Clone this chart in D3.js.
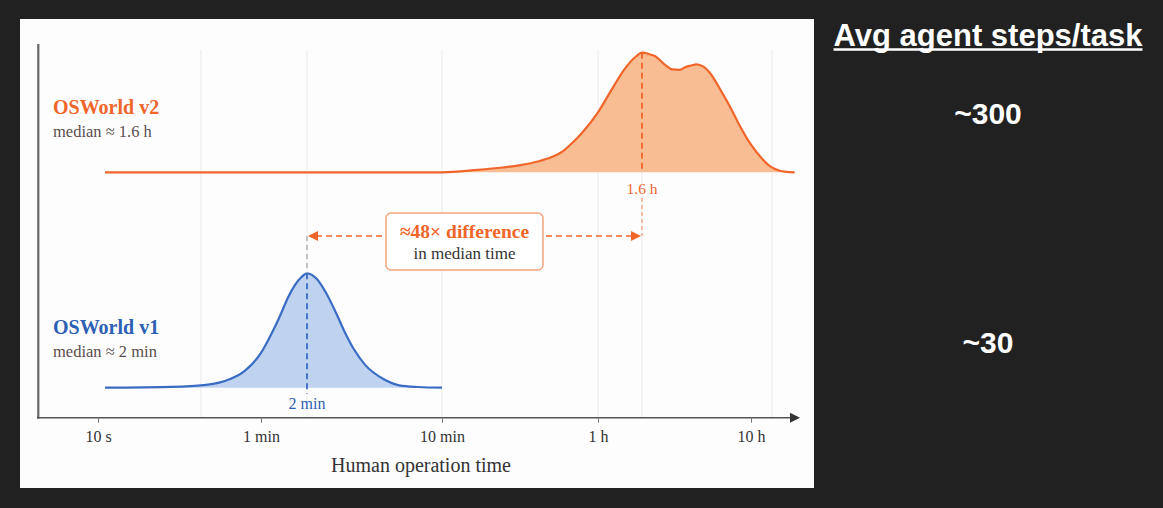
<!DOCTYPE html>
<html>
<head>
<meta charset="utf-8">
<script src="https://cdn.jsdelivr.net/npm/d3@7"></script>
<style>
  html, body { margin: 0; padding: 0; background: #212121; }
  svg { display: block; }
</style>
</head>
<body>
<svg id="chart" width="1163" height="508"></svg>
<script>
// ---- data (times in seconds, density scaled so the tallest peak ~ 1) ----
const tickTimes = [10, 60, 600, 3600, 36000];
const tickLabels = ["10 s", "1 min", "10 min", "1 h", "10 h"];
const gridTimes = [31, 120, 600, 3600, 5760, 51300];

const v1Times = [10.8, 20, 30, 40, 50, 60, 70, 80, 90, 100, 110, 120, 135, 150, 170, 190, 210, 240, 300, 360, 450, 600];
const v1Density = [0, 0.004, 0.017, 0.054, 0.138, 0.29, 0.445, 0.60, 0.75, 0.855, 0.92, 0.953, 0.905, 0.795, 0.62, 0.45, 0.32, 0.19, 0.07, 0.02, 0.006, 0];

const v2Times = [10.8, 600, 900, 1200, 1500, 1800, 2100, 2400, 2700, 3000, 3600, 4200, 4800, 5400, 5760, 6600, 7200, 8400, 9600, 10800, 12000, 13200, 14400, 16200, 18000, 21600, 25200, 28800, 36000, 43200, 50400, 57600, 65000, 75000];
const v2Density = [0, 0, 0.02, 0.04, 0.062, 0.09, 0.125, 0.175, 0.25, 0.33, 0.50, 0.70, 0.864, 0.965, 0.997, 0.982, 0.967, 0.90, 0.857, 0.853, 0.878, 0.89, 0.90, 0.88, 0.83, 0.685, 0.55, 0.42, 0.23, 0.116, 0.045, 0.015, 0.004, 0];

const v1Median = 120, v2Median = 5760;
const v1Name = "OSWorld v1", v1Sub = "median ≈ 2 min", v1MedLabel = "2 min";
const v2Name = "OSWorld v2", v2Sub = "median ≈ 1.6 h", v2MedLabel = "1.6 h";
const diffLabel = "≈48× difference", diffSub = "in median time";
const axisTitle = "Human operation time";
const sideTitle = "Avg agent steps/task";
const sideValues = ["~300", "~30"];

// ---- colours / fonts ----
const orange = "#f0652a", orangeFill = "#f9bd94";
const blue = "#3a6cc4", blueFill = "#bfd3f1", blueText = "#2d5fb4";
const serif = "'Liberation Serif', 'Times New Roman', serif";
const sans = "'Liberation Sans', Arial, sans-serif";

const svg = d3.select("#chart");

// white panel
svg.append("rect").attr("x", 20).attr("y", 19).attr("width", 794).attr("height", 469).attr("fill", "#fdfdfd");

// x scale: hand-drawn log axis, piecewise through the tick positions
const x = d3.scaleLog()
  .domain([10, 60, 120, 600, 3600, 5760, 36000])
  .range([98, 261, 307, 442, 598, 642, 751]);

const yV2 = d3.scaleLinear().domain([0, 1]).range([172.3, 52.3]);
const yV1 = d3.scaleLinear().domain([0, 1]).range([387.7, 267.7]);
const axisY = 417.7;

// grid
svg.append("g").selectAll("line")
  .data(gridTimes).enter().append("line")
  .attr("x1", d => x(d)).attr("x2", d => x(d))
  .attr("y1", 50).attr("y2", axisY)
  .attr("stroke", "#ebebeb").attr("stroke-width", 1);

// curves
function drawCurve(times, dens, y, stroke, fill) {
  const pts = times.map((t, i) => [t, dens[i]]);
  const area = d3.area().x(d => x(d[0])).y0(y(0)).y1(d => y(d[1])).curve(d3.curveMonotoneX);
  const line = d3.line().x(d => x(d[0])).y(d => y(d[1])).curve(d3.curveMonotoneX);
  svg.append("path").datum(pts).attr("d", area).attr("fill", fill);
  svg.append("path").datum(pts).attr("d", line).attr("fill", "none")
    .attr("stroke", stroke).attr("stroke-width", 2.2);
}
drawCurve(v2Times, v2Density, yV2, orange, orangeFill);
drawCurve(v1Times, v1Density, yV1, blue, blueFill);

// median markers
const v1Peak = d3.max(v1Density), v2Peak = d3.max(v2Density);
const arrowY = 236;

svg.append("line")
  .attr("x1", x(v1Median)).attr("x2", x(v1Median))
  .attr("y1", yV1(v1Peak)).attr("y2", yV1(0) + 6)
  .attr("stroke", blue).attr("stroke-width", 1.8).attr("stroke-dasharray", "6,4");
svg.append("line")
  .attr("x1", x(v1Median)).attr("x2", x(v1Median))
  .attr("y1", arrowY).attr("y2", yV1(v1Peak))
  .attr("stroke", "#a8a8a8").attr("stroke-width", 1.3).attr("stroke-dasharray", "5,4");
svg.append("text").attr("x", x(v1Median)).attr("y", 408.5)
  .attr("text-anchor", "middle").attr("font-family", serif).attr("font-size", 16)
  .attr("fill", blueText).text(v1MedLabel);

svg.append("line")
  .attr("x1", x(v2Median)).attr("x2", x(v2Median))
  .attr("y1", yV2(v2Peak)).attr("y2", yV2(0))
  .attr("stroke", orange).attr("stroke-width", 1.8).attr("stroke-dasharray", "6,4");
svg.append("line")
  .attr("x1", x(v2Median)).attr("x2", x(v2Median))
  .attr("y1", 198).attr("y2", arrowY)
  .attr("stroke", "#f4a27a").attr("stroke-width", 1.3).attr("stroke-dasharray", "4,3");
svg.append("text").attr("x", x(v2Median)).attr("y", 193.5)
  .attr("text-anchor", "middle").attr("font-family", serif).attr("font-size", 15.5)
  .attr("fill", orange).text(v2MedLabel);

// double arrow between medians
const ax1 = x(v1Median) + 1, ax2 = x(v2Median) - 1;
svg.append("line").attr("x1", ax1 + 8).attr("x2", ax2 - 8).attr("y1", arrowY).attr("y2", arrowY)
  .attr("stroke", orange).attr("stroke-width", 1.5).attr("stroke-dasharray", "6,4");
svg.append("path").attr("d", `M${ax1},${arrowY}L${ax1 + 10},${arrowY - 5}L${ax1 + 10},${arrowY + 5}Z`).attr("fill", orange);
svg.append("path").attr("d", `M${ax2},${arrowY}L${ax2 - 10},${arrowY - 5}L${ax2 - 10},${arrowY + 5}Z`).attr("fill", orange);

// annotation box
const boxX = 386, boxW = 157, boxY = 213, boxH = 57;
svg.append("rect").attr("x", boxX).attr("y", boxY).attr("width", boxW).attr("height", boxH)
  .attr("rx", 5).attr("fill", "#fff").attr("stroke", "#f4a57d").attr("stroke-width", 1.5);
svg.append("text").attr("x", boxX + boxW / 2).attr("y", 238)
  .attr("text-anchor", "middle").attr("font-family", serif).attr("font-weight", "bold")
  .attr("font-size", 19.5).attr("fill", orange).text(diffLabel);
svg.append("text").attr("x", boxX + boxW / 2).attr("y", 258.5)
  .attr("text-anchor", "middle").attr("font-family", serif)
  .attr("font-size", 17).attr("fill", "#333").text(diffSub);

// series labels
function seriesLabel(name, sub, y, color) {
  svg.append("text").attr("x", 53).attr("y", y).attr("font-family", serif).attr("font-weight", "bold")
    .attr("font-size", 20).attr("fill", color).text(name);
  svg.append("text").attr("x", 53).attr("y", y + 23).attr("font-family", serif)
    .attr("font-size", 16.5).attr("fill", "#5b4d4d").text(sub);
}
seriesLabel(v2Name, v2Sub, 114, orange);
seriesLabel(v1Name, v1Sub, 334, blueText);

// axes
svg.append("line").attr("x1", 38.3).attr("x2", 38.3).attr("y1", 44).attr("y2", axisY + 1)
  .attr("stroke", "#666").attr("stroke-width", 2.2);
svg.append("line").attr("x1", 37).attr("x2", 793).attr("y1", axisY).attr("y2", axisY)
  .attr("stroke", "#555").attr("stroke-width", 1.6);
svg.append("path").attr("d", `M800,${axisY}L790,${axisY - 5}L790,${axisY + 5}Z`).attr("fill", "#333");

const xAxis = svg.append("g").attr("transform", `translate(0,${axisY})`)
  .call(d3.axisBottom(x).tickValues(tickTimes).tickFormat((d, i) => tickLabels[i]).tickSize(5).tickPadding(8));
xAxis.select(".domain").remove();
xAxis.selectAll(".tick line").attr("stroke", "#777");
xAxis.selectAll(".tick text").attr("font-family", serif).attr("font-size", 16).attr("fill", "#333");

svg.append("text").attr("x", 421).attr("y", 472).attr("text-anchor", "middle")
  .attr("font-family", serif).attr("font-size", 20).attr("fill", "#333").text(axisTitle);

// right-hand notes
const title = svg.append("text").attr("x", 988).attr("y", 46).attr("text-anchor", "middle")
  .attr("font-family", sans).attr("font-weight", "bold").attr("font-size", 31).attr("fill", "#fff")
  .text(sideTitle);
const tw = title.node().getComputedTextLength();
svg.append("line").attr("x1", 988 - tw / 2).attr("x2", 988 + tw / 2).attr("y1", 49.5).attr("y2", 49.5)
  .attr("stroke", "#fff").attr("stroke-width", 2.4);

svg.selectAll(".side").data(sideValues).enter().append("text")
  .attr("class", "side").attr("x", 988).attr("y", (d, i) => [124, 353][i])
  .attr("text-anchor", "middle").attr("font-family", sans).attr("font-weight", "bold")
  .attr("font-size", 30).attr("fill", "#fff").text(d => d);
</script>
</body>
</html>
